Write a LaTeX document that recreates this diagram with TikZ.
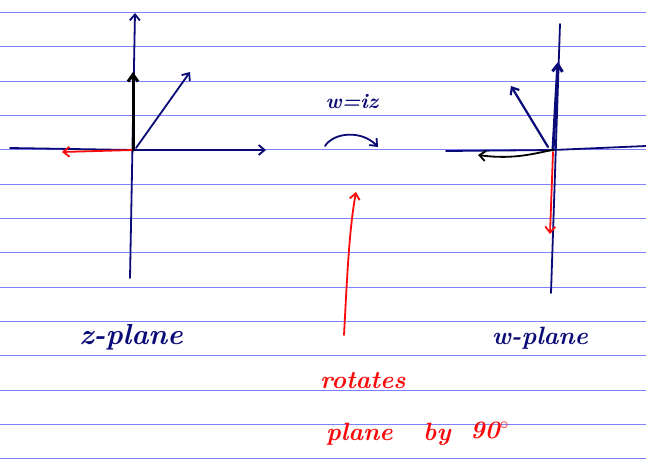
\documentclass[tikz,border=0pt]{standalone}
\usetikzlibrary{arrows.meta}
\definecolor{ruled}{RGB}{128,128,250}
\definecolor{ink}{RGB}{10,10,120}
\definecolor{redink}{RGB}{250,10,10}
\tikzset{
  axis/.style={ink, line width=1.8pt, line cap=round, -{Straight Barb[length=6pt,width=10pt]}},
  plainaxis/.style={ink, line width=1.8pt, line cap=round},
  vec/.style={line width=1.8pt, line cap=round, -{Straight Barb[length=6pt,width=10pt]}},
  thickvec/.style={line width=3pt, line cap=round, -{Straight Barb[length=7pt,width=10pt]}},
  hand/.style={font=\bfseries\itshape\fontsize{29}{32}\selectfont, inner sep=0pt},
  redhand/.style={font=\bfseries\itshape\fontsize{25}{28}\selectfont, inner sep=0pt, redink, anchor=west},
}
\begin{document}
\begin{tikzpicture}[x=1pt,y=-1pt]
\useasboundingbox (0,0) rectangle (646,472);
\fill[white] (0,0) rectangle (646,472);
% ruled lines
\foreach \y in {12,46.5,81,115,149.5,184,218,252.5,287,321,355.5,390,424,458.5}
  \draw[ruled, line width=1pt] (0,\y) -- (646,\y);

% ---- z-plane ----
\coordinate (zo) at (133,150);
\coordinate (zbot) at (130,278);
\coordinate (ztop) at (135,13);
\coordinate (zleft) at (10,148);
\coordinate (zright) at (266,150);
\draw[axis] (zbot) -- (ztop);
\draw[plainaxis] (zleft) -- (zo);
\draw[axis] (zo) -- (zright);
\coordinate (zred) at (62,152);
\coordinate (zblk) at (133,72);
\coordinate (zdiag) at (190,72);
\draw[vec, redink] (zo) -- (zred);
\draw[thickvec, black] (zo) -- (zblk);
\draw[vec, ink] (136,148) coordinate (zd0) -- (zdiag);
\node[hand, ink] (zlabel) at (131,337) {z-plane};

% ---- map ----
\node[font=\bfseries\itshape\fontsize{21}{24}\selectfont, ink, inner sep=0pt] (map) at (352,102) {w=iz};
\coordinate (ca) at (325,146);
\coordinate (cb) at (378,147);
\draw[vec, ink] (ca) .. controls (334,132) and (362,130) .. (cb);
\coordinate (ra) at (344,335);
\coordinate (rb) at (356,192);
\draw[vec, redink] (ra) .. controls (347,280) and (349,230) .. (rb);
\node[redhand] (rot) at (320,381) {rotates};
\node[redhand] (pl) at (326,434) {plane};
\node[redhand] (by) at (423,434) {by};
\node[redhand] (deg) at (470,430) {90$^\circ$};

% ---- w-plane ----
\coordinate (wo) at (553,150);
\coordinate (wbot) at (551,293);
\coordinate (wtop) at (560,24);
\coordinate (wleft) at (446,151);
\coordinate (wright) at (646,146);
\draw[plainaxis] (wbot) -- (wtop);
\draw[plainaxis] (wleft) -- (wo) -- (wright);
\draw[thickvec, ink] (wo) -- (558,62) coordinate (wup);
\draw[vec, line width=2.2pt, ink] (548,147) coordinate (wn0) -- (511,86) coordinate (wnw);
\draw[vec, black] (wo) .. controls (535,153) and (515,160) .. (478,155) coordinate (wblk);
\draw[vec, redink] (553,152) -- (550,234) coordinate (wred);
\node[hand, ink, font=\bfseries\itshape\fontsize{25}{28}\selectfont] (wlabel) at (540,338) {w-plane};
\end{tikzpicture}
\end{document}
